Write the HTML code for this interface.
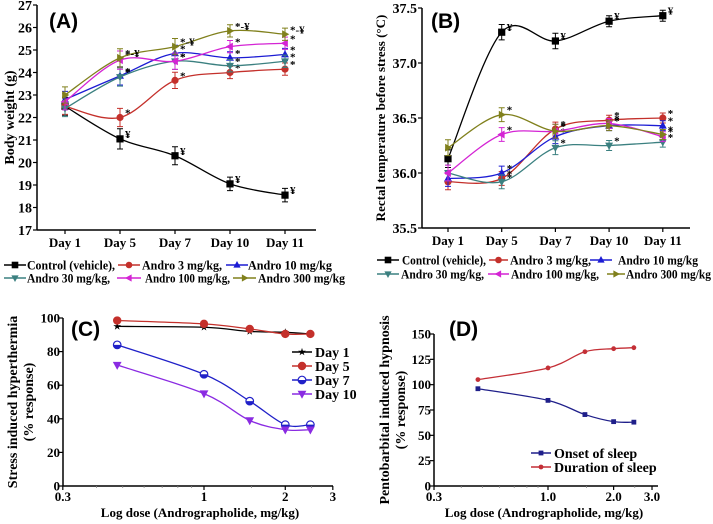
<!DOCTYPE html>
<html><head><meta charset="utf-8"><style>
body{margin:0;background:#fff}
svg{display:block}
text{font-family:"Liberation Serif",serif;font-weight:bold;fill:#000}
.tt{font-family:"Liberation Sans",sans-serif;font-size:21px;font-weight:bold}
</style></head><body>
<svg id="fig" width="713" height="524" viewBox="0 0 713 524"></svg>
<script>
const days = ["Day 1","Day 5","Day 7","Day 10","Day 11"];
const seriesNames = ["Control (vehicle),","Andro 3 mg/kg,","Andro 10 mg/kg","Andro 30 mg/kg,","Andro 100 mg/kg,","Andro 300 mg/kg"];
const aControl = [22.5,21.05,20.3,19.05,18.55];
const aAndro3 = [22.5,22.0,23.65,24.0,24.15];
const aAndro10 = [22.8,23.85,24.85,24.65,24.8];
const aAndro30 = [22.4,23.8,24.5,24.3,24.5];
const aAndro100 = [22.7,24.55,24.5,25.15,25.3];
const aAndro300 = [23.0,24.65,25.15,25.85,25.7];
const aErr = [0.4,0.45,0.4,0.3,0.3];
const aTicks = [17,18,19,20,21,22,23,24,25,26,27];
const bControl = [36.13,37.28,37.2,37.38,37.43];
const bAndro3 = [35.92,35.95,36.4,36.48,36.5];
const bAndro10 = [35.95,36.0,36.33,36.43,36.43];
const bAndro30 = [36.0,35.92,36.23,36.25,36.28];
const bAndro100 = [36.0,36.35,36.38,36.45,36.33];
const bAndro300 = [36.23,36.53,36.38,36.43,36.35];
const bErr = [0.08,0.07,0.07,0.05,0.05];
const bTicks = [35.5,36.0,36.5,37.0,37.5];
const logDose = [0.477,1,1.477,2,2.477];
const cDay1 = [95,94.5,92,91.5,90.5];
const cDay5 = [98.5,96.5,93.5,90.5,90.5];
const cDay7 = [84,66.5,50.5,36.5,36.5];
const cDay10 = [72,55,39,33.5,33.5];
const cTicks = [0,20,40,60,80,100];
const cXTicks = ["0.3","1","2","3"];
const dOnset = [96,84.5,70.5,63.5,63];
const dDuration = [105,116.5,132.5,135.5,136.5];
const dTicks = [0,25,50,75,100,125,150];
const dXTicks = ["0.3","1.0","2.0","3.0"];

const NS="http://www.w3.org/2000/svg";
const svg=document.getElementById('fig');
function el(tag,attrs,parent){const e=document.createElementNS(NS,tag);for(const k in attrs)e.setAttribute(k,attrs[k]);(parent||svg).appendChild(e);return e;}
function txt(s,attrs,parent){const e=el('text',attrs,parent);e.textContent=s;return e;}
function spline(pts){let d=`M${pts[0][0]},${pts[0][1]}`;for(let i=0;i<pts.length-1;i++){const p0=pts[Math.max(0,i-1)],p1=pts[i],p2=pts[i+1],p3=pts[Math.min(pts.length-1,i+2)];const c1x=p1[0]+(p2[0]-p0[0])/6,c1y=p1[1]+(p2[1]-p0[1])/6,c2x=p2[0]-(p3[0]-p1[0])/6,c2y=p2[1]-(p3[1]-p1[1])/6;d+=` C${c1x},${c1y} ${c2x},${c2y} ${p2[0]},${p2[1]}`;}return d;}
function marker(type,x,y,c,g,s){s=s||3.6;let m;
 if(type==='sq')m=el('rect',{x:x-s,y:y-s,width:2*s,height:2*s,fill:c},g);
 else if(type==='ci')m=el('circle',{cx:x,cy:y,r:s,fill:c},g);
 else if(type==='half'){m=el('circle',{cx:x,cy:y,r:s,fill:'#fff',stroke:c,'stroke-width':1.2},g);el('path',{d:`M${x-s},${y} A${s},${s} 0 0 0 ${x+s},${y}Z`,fill:c},g);}
 else if(type==='star'){let p=[];for(let i=0;i<10;i++){const r=i%2?s*0.45:s*1.2,a=-Math.PI/2+i*Math.PI/5;p.push((x+r*Math.cos(a)).toFixed(1)+','+(y+r*Math.sin(a)).toFixed(1));}m=el('polygon',{points:p.join(' '),fill:c},g);}
 else{const t={up:[[0,-1.2],[1.1,0.8],[-1.1,0.8]],dn:[[0,1.2],[1.1,-0.8],[-1.1,-0.8]],lf:[[-1.2,0],[0.8,-1.1],[0.8,1.1]],rt:[[1.2,0],[-0.8,-1.1],[-0.8,1.1]]}[type];m=el('polygon',{points:t.map(p=>(x+p[0]*s)+','+(y+p[1]*s)).join(' '),fill:c},g);}
 return m;}
const cols=['#000','#c4302b','#1c1cd4','#3b8080','#d424d4','#80801c'];
const mk=['sq','ci','up','dn','lf','rt'];

function dayPanel(P){
 const g=el('g',{});
 const xs=i=>P.x0+i*P.dx;
 const ys=v=>P.yb-(v-P.ymin)/(P.ymax-P.ymin)*(P.yb-P.yt);
 el('line',{x1:P.ax,y1:P.yt,x2:P.ax,y2:P.yb,stroke:'#000','stroke-width':1.5},g);
 el('line',{x1:P.ax,y1:P.yb,x2:P.axEnd,y2:P.yb,stroke:'#000','stroke-width':1.5},g);
 P.ticks.forEach(t=>{const y=ys(t);el('line',{x1:P.ax-4,y1:y,x2:P.ax,y2:y,stroke:'#000','stroke-width':1.2},g);
   const l=txt(P.fmt(t),{x:P.ax-5,y:y+5,'text-anchor':'end','font-size':14},g);});
 days.forEach((d,i)=>{el('line',{x1:xs(i),y1:P.yb,x2:xs(i),y2:P.yb+4,stroke:'#000','stroke-width':1.2},g);
   const l=txt(d,{x:xs(i),y:P.yb+17,'text-anchor':'middle','font-size':13},g);});
 P.series.forEach((s,k)=>{
   const sg=el('g',{},g);
   const pts=s.map((v,i)=>[xs(i),ys(v)]);
   el('path',{d:spline(pts),fill:'none',stroke:cols[k],'stroke-width':1.3},sg);
   s.forEach((v,i)=>{const e=P.err[i]*(k===0?1:0.9);const x=xs(i);
     el('path',{d:`M${x},${ys(v-e)}V${ys(v+e)}M${x-3},${ys(v-e)}h6M${x-3},${ys(v+e)}h6`,stroke:cols[k],'stroke-width':1,fill:'none'},sg);
     const m=marker(mk[k],x,ys(v),cols[k],sg);
     if(i>0){const lab=k===0?'¥':(P.star300&&k===5?'*-¥':'*');txt(lab,{x:x+5,y:ys(v)-1,'font-size':11,fill:'#333'},sg);}
   });
 });
 const t=txt(P.title,{x:P.tx,y:P.ty,class:'tt'},g);
 const yt=txt(P.ytitle,{x:0,y:0,'text-anchor':'middle','font-size':P.ytsize,transform:`translate(${P.ytx},${(P.yt+P.yb)/2}) rotate(-90)`},g);
 P.legend.forEach((L,k)=>{const lg=el('g',{},g);
   el('line',{x1:L[0],y1:L[1],x2:L[0]+L[2],y2:L[1],stroke:cols[k],'stroke-width':1.5},lg);marker(mk[k],L[0]+L[2]/2,L[1],cols[k],lg,3.3);
   txt(seriesNames[k],{x:L[3],y:L[1]+4.5,'font-size':13,textLength:L[4]-L[3],lengthAdjust:'spacingAndGlyphs'},lg);});
}
dayPanel({name:'panel-a-body-weight',x0:65,dx:55,ax:37,axEnd:316,yt:5,yb:230,ymin:17,ymax:27,ticks:aTicks,fmt:t=>String(t),
 series:[aControl,aAndro3,aAndro10,aAndro30,aAndro100,aAndro300],err:aErr,star300:true,title:'(A)',tx:49,ty:28,
 ytitle:'Body weight (g)',ytx:14,ytsize:14,
 legend:[[4,265,22,27,115],[118,265,22,142,222],[226,265,22,248,332],[4,278,22,27,110],[117,278,24,145,230],[233,278,23,258,345]]});
dayPanel({name:'panel-b-rectal-temperature',x0:448,dx:53.7,ax:422,axEnd:690,yt:8,yb:228,ymin:35.5,ymax:37.5,ticks:bTicks,fmt:t=>t.toFixed(1),
 series:[bControl,bAndro3,bAndro10,bAndro30,bAndro100,bAndro300],err:bErr,star300:false,title:'(B)',tx:431,ty:28,
 ytitle:'Rectal temperature before stress (°C)',ytx:385,ytsize:13,
 legend:[[377,260,22,402,486],[489,260,19,510,591],[590,260,22,618,698],[377,274,22,401,484],[488,274,21,511,599],[607,274,18,626,711]]});

function dosePanel(P){
 const g=el('g',{});
 const xs=v=>P.x1+Math.log10(v)*P.dec;
 const ys=v=>P.yb-(v-P.ymin)/(P.ymax-P.ymin)*(P.yb-P.yt);
 el('line',{x1:P.ax,y1:P.yt,x2:P.ax,y2:P.yb,stroke:'#000','stroke-width':1.5},g);
 el('line',{x1:P.ax,y1:P.yb,x2:P.axEnd,y2:P.yb,stroke:'#000','stroke-width':1.5},g);
 P.ticks.forEach(t=>{const y=ys(t);el('line',{x1:P.ax-4,y1:y,x2:P.ax,y2:y,stroke:'#000','stroke-width':1.2},g);
   const l=txt(String(t),{x:P.ax-3,y:y+4.5,'text-anchor':'end','font-size':13},g);});
 [0.4,0.5,0.6,0.7,0.8,0.9,1.5,2.5].forEach(v=>el('line',{x1:xs(v),y1:P.yb,x2:xs(v),y2:P.yb+2,stroke:'#888','stroke-width':0.8},g));
 P.xticks.forEach(s=>{const x=xs(parseFloat(s));el('line',{x1:x,y1:P.yb,x2:x,y2:P.yb+4,stroke:'#000','stroke-width':1.2},g);
   const l=txt(s,{x:x,y:P.yb+15,'text-anchor':'middle','font-size':13},g);});
 P.series.forEach((s,k)=>{const sg=el('g',{},g);
   const pts=s.map((v,i)=>[xs(logDose[i]),ys(v)]);
   el('path',{d:spline(pts),fill:'none',stroke:P.cols[k],'stroke-width':1.3},sg);
   s.forEach((v,i)=>{const m=marker(P.mk[k],xs(logDose[i]),ys(v),P.cols[k],sg,P.ms[k]);});});
 P.labels.forEach((s,k)=>{const lg=el('g',{},g);
   const y=P.ly+k*P.lstep;el('line',{x1:P.lx,y1:y,x2:P.lx+20,y2:y,stroke:P.cols[k],'stroke-width':1.5},lg);marker(P.mk[k],P.lx+10,y,P.cols[k],lg,P.ms[k]);
   txt(s,{x:P.lx+23,y:y+5,'font-size':14},lg);});
 const t=txt(P.title,{x:P.tx,y:P.ty,class:'tt'},g);
 P.ytitle.forEach((s,i)=>{const yt=txt(s,{x:0,y:0,'text-anchor':'middle','font-size':14,transform:`translate(${P.ytx+i*16},${(P.yt+P.yb)/2}) rotate(-90)`},g);});
 const xt=txt('Log dose (Andrographolide, mg/kg)',{x:P.xtx,y:517,'text-anchor':'middle','font-size':13},g);
}
dosePanel({name:'panel-c-stress-hyperthermia',x1:204,dec:270,ax:63,axEnd:333,yt:318,yb:486,ymin:0,ymax:100,ticks:cTicks,xticks:cXTicks,
 series:[cDay1,cDay5,cDay7,cDay10],labels:['Day 1','Day 5','Day 7','Day 10'],cols:['#000','#c4302b','#2020c8','#8a2be2'],mk:['star','ci','half','dn'],ms:[3.4,4.2,3.8,4],
 lx:292,ly:352,lstep:14,title:'(C)',tx:71,ty:336,ytitle:['Stress induced hyperthermia','(% response)'],ytx:17,xtx:200});
dosePanel({name:'panel-d-pentobarbital-hypnosis',x1:548,dec:218,ax:434,axEnd:658,yt:334,yb:486,ymin:0,ymax:150,ticks:dTicks,xticks:dXTicks,
 series:[dOnset,dDuration],labels:['Onset of sleep','Duration of sleep'],cols:['#1f1f8a','#c42f36'],mk:['sq','ci'],ms:[2.4,2.4],
 lx:531,ly:453,lstep:14,title:'(D)',tx:449,ty:336,ytitle:['Pentobarbital induced hypnosis','(% response)'],ytx:389,xtx:544});
</script>
</body></html>
